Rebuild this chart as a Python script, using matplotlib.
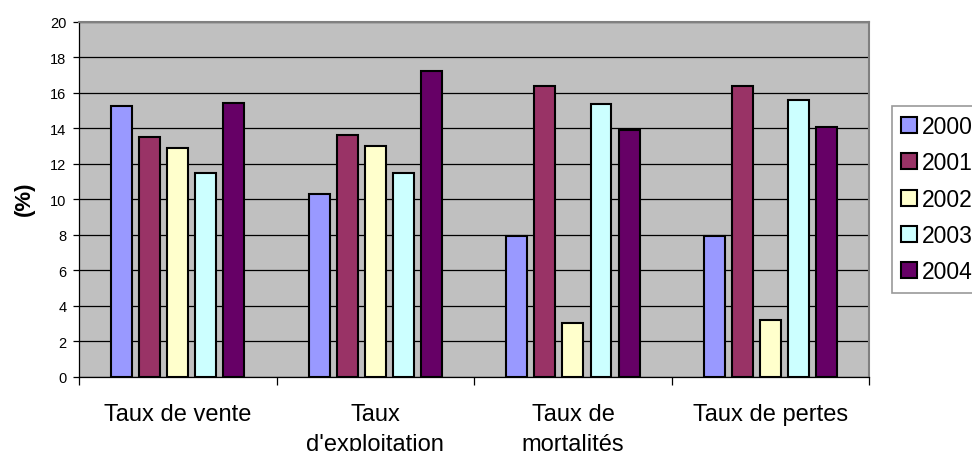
import numpy as np
import matplotlib
matplotlib.use("Agg")
import matplotlib.pyplot as plt
from matplotlib.patches import Patch

plt.rcParams['font.family'] = ['Liberation Sans', 'DejaVu Sans']

categories = ["Taux de vente", "Taux\nd'exploitation", "Taux de\nmortalités", "Taux de pertes"]
years = ["2000", "2001", "2002", "2003", "2004"]
v2000 = [15.25, 10.3, 7.95, 7.95]
v2001 = [13.5, 13.6, 16.35, 16.35]
v2002 = [12.9, 13.0, 3.0, 3.2]
v2003 = [11.45, 11.5, 15.35, 15.6]
v2004 = [15.4, 17.25, 13.9, 14.05]
series = [v2000, v2001, v2002, v2003, v2004]
colors = ["#9999FF", "#993366", "#FFFFCC", "#CCFFFF", "#660066"]

fig = plt.figure(figsize=(9.72, 4.52), dpi=100)
ax = fig.add_axes([79 / 972, 1 - 377.7 / 452, (869.3 - 79) / 972, (377.7 - 22.7) / 452])
ax.set_facecolor("#C0C0C0")

n = len(categories)
x = np.arange(n) + 0.5
step = 0.142
width = 0.106
for i, (vals, col) in enumerate(zip(series, colors)):
    ax.bar(x + (i - 2) * step, vals, width=width, color=col,
           edgecolor="black", linewidth=1.5, zorder=3, label=years[i])

ax.set_xlim(0, n)
ax.set_ylim(0, 20)
ax.set_yticks(np.arange(0, 21, 2))
ax.yaxis.grid(True, color="black", linewidth=0.9, zorder=1)
ax.set_axisbelow(True)
ax.tick_params(axis="y", direction="out", length=4, width=0.9, labelsize=10.5, pad=5)

# category boundaries carry the tick marks, centers carry the labels
ax.set_xticks(np.arange(0, n + 1))
ax.set_xticklabels([])
ax.tick_params(axis="x", which="major", direction="out", length=6, width=0.9)
ax.set_xticks(x, minor=True)
ax.set_xticklabels(categories, minor=True, fontsize=17, linespacing=1.45, va="top")
ax.tick_params(axis="x", which="minor", length=0, pad=19)

for side in ("top", "right"):
    ax.spines[side].set_color("#808080")
    ax.spines[side].set_linewidth(1.5)
for side in ("left", "bottom"):
    ax.spines[side].set_color("black")
    ax.spines[side].set_linewidth(0.9)

fig.text(24 / 972, 1 - 199 / 452, "(%)", rotation=90, fontsize=16,
         fontweight="bold", ha="center", va="center")

handles = [Patch(facecolor=c, edgecolor="black", linewidth=1.5) for c in colors]
leg = fig.legend(handles, years, loc="upper left",
                 bbox_to_anchor=(892 / 972, 1 - 107 / 452),
                 fontsize=16.5, frameon=True, fancybox=False,
                 handlelength=0.7, handleheight=0.7, handletextpad=0.2,
                 labelspacing=0.58, borderpad=0.4, borderaxespad=0)
leg.get_frame().set_edgecolor("#808080")
leg.get_frame().set_linewidth(1.2)

fig.savefig("out.png", dpi=100)
